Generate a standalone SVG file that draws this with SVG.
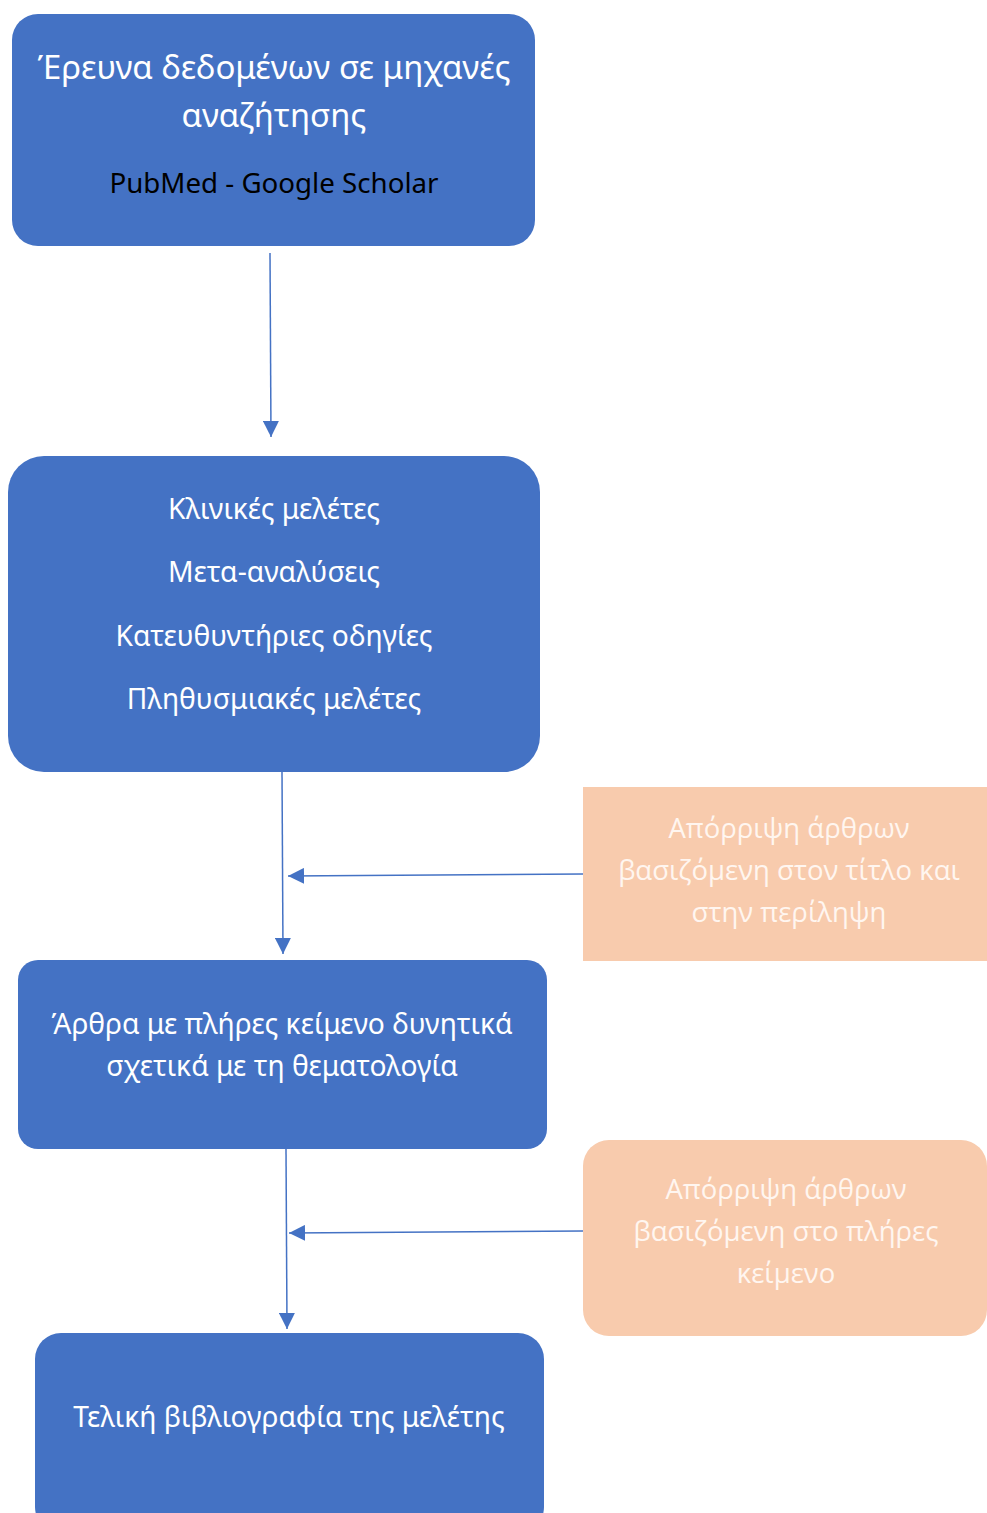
<svg xmlns="http://www.w3.org/2000/svg" width="987" height="1513" viewBox="0 0 987 1513">
<defs>
<style>
.blue{fill:#4472C4;}
.peach{fill:#F8CBAD;}
.t{font-family:"Noto Sans","Open Sans","DejaVu Sans",sans-serif;text-anchor:middle;fill:#ffffff;}
.pt{font-family:"Open Sans","Noto Sans","DejaVu Sans",sans-serif;text-anchor:middle;fill:#fff6f0;font-size:27.5px;}
.k{fill:#000000;}
.c{stroke:#4472C4;stroke-width:1.5;fill:none;marker-end:url(#ah);}
</style>
<marker id="ah" viewBox="0 0 10 10" refX="10" refY="5" markerUnits="userSpaceOnUse" markerWidth="16" markerHeight="16" orient="auto">
<path d="M0,0 L10,5 L0,10 z" fill="#4472C4"/>
</marker>
</defs>
<rect width="987" height="1513" fill="#ffffff"/>
<g id="connectors">
<line class="c" x1="270" y1="253" x2="271" y2="437"/>
<line class="c" x1="282" y1="772" x2="283" y2="954"/>
<line class="c" x1="583" y1="874" x2="288" y2="876"/>
<line class="c" x1="286" y1="1149" x2="287" y2="1329"/>
<line class="c" x1="583" y1="1231" x2="289" y2="1233"/>
</g>
<g id="node-search">
<rect class="blue" x="12" y="14" width="523" height="232" rx="26"/>
<text class="t" x="274" y="79" font-size="33">Έρευνα δεδομένων σε μηχανές</text>
<text class="t" x="274" y="127" font-size="33">αναζήτησης</text>
<text class="t k" x="274" y="193" font-size="27.7">PubMed - Google Scholar</text>
</g>
<g id="node-types">
<rect class="blue" x="8" y="456" width="532" height="316" rx="36"/>
<text class="t" x="274" y="519" font-size="28.2">Κλινικές μελέτες</text>
<text class="t" x="274" y="582" font-size="28.2">Μετα-αναλύσεις</text>
<text class="t" x="274" y="646" font-size="28.2">Κατευθυντήριες οδηγίες</text>
<text class="t" x="274" y="709" font-size="28.2">Πληθυσμιακές μελέτες</text>
</g>
<g id="node-fulltext">
<rect class="blue" x="18" y="960" width="529" height="189" rx="20"/>
<text class="t" x="282" y="1034" font-size="28.2">Άρθρα με πλήρες κείμενο δυνητικά</text>
<text class="t" x="282" y="1076" font-size="28.2">σχετικά με τη θεματολογία</text>
</g>
<g id="node-final">
<rect class="blue" x="35" y="1333" width="509" height="200" rx="26"/>
<text class="t" x="289" y="1427" font-size="28.2">Τελική βιβλιογραφία της μελέτης</text>
</g>
<g id="node-reject-title">
<rect class="peach" x="583" y="787" width="404" height="174"/>
<text class="pt" x="789" y="838">Απόρριψη άρθρων</text>
<text class="pt" x="789" y="880">βασιζόμενη στον τίτλο και</text>
<text class="pt" x="789" y="922">στην περίληψη</text>
</g>
<g id="node-reject-full">
<rect class="peach" x="583" y="1140" width="404" height="196" rx="26"/>
<text class="pt" x="786" y="1199">Απόρριψη άρθρων</text>
<text class="pt" x="786" y="1241">βασιζόμενη στο πλήρες</text>
<text class="pt" x="786" y="1283">κείμενο</text>
</g>
</svg>
